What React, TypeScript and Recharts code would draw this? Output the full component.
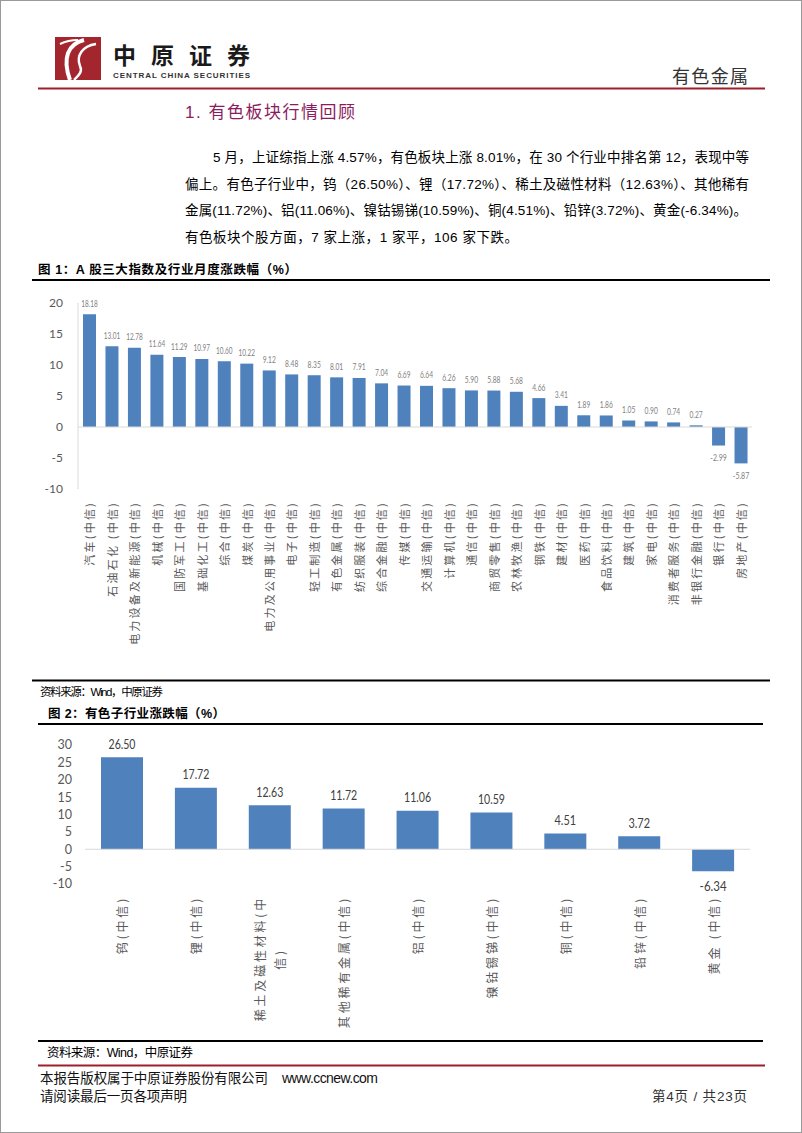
import React from 'react';
import { BarChart, Bar, XAxis, YAxis, ReferenceLine } from 'recharts';

// 图1：A股三大指数及行业月度涨跌幅
const industryNames = [
  '汽车(中信)', '石油石化 (中信)', '电力设备及新能源(中信)', '机械(中信)', '国防军工(中信)',
  '基础化工(中信)', '综合(中信)', '煤炭(中信)', '电力及公用事业(中信)', '电子(中信)',
  '轻工制造(中信)', '有色金属(中信)', '纺织服装(中信)', '综合金融(中信)', '传媒(中信)',
  '交通运输(中信)', '计算机(中信)', '通信(中信)', '商贸零售(中信)', '农林牧渔(中信)',
  '钢铁(中信)', '建材(中信)', '医药(中信)', '食品饮料(中信)', '建筑(中信)',
  '家电(中信)', '消费者服务(中信)', '非银行金融(中信)', '银行(中信)', '房地产(中信)',
];
const industryChanges = [
  18.18, 13.01, 12.78, 11.64, 11.29, 10.97, 10.6, 10.22, 9.12, 8.48,
  8.35, 8.01, 7.91, 7.04, 6.69, 6.64, 6.26, 5.9, 5.88, 5.68,
  4.66, 3.41, 1.89, 1.86, 1.05, 0.9, 0.74, 0.27, -2.99, -5.87,
];
const industryTicks = [-10, -5, 0, 5, 10, 15, 20];

// 图2：有色子行业涨跌幅
const metalNames = [
  '钨(中信)', '锂(中信)', '稀土及磁性材料(中信)', '其他稀有金属(中信)', '铝(中信)',
  '镍钴锡锑(中信)', '铜(中信)', '铅锌(中信)', '黄金 (中信)',
];
const metalChanges = [26.5, 17.72, 12.63, 11.72, 11.06, 10.59, 4.51, 3.72, -6.34];
const metalTicks = [-10, -5, 0, 5, 10, 15, 20, 25, 30];

const CJK = '"Noto Sans CJK SC", sans-serif';
const MIX = '"Liberation Sans", "Noto Sans CJK SC", sans-serif';
const NUM = 'Lato, "Liberation Sans", sans-serif';
const BLUE = '#4F81BD';
const DARK_RED = '#9E1F2A';

const industryData = industryNames.map((name, i) => ({ name, value: industryChanges[i] }));
const metalData = metalNames.map((name, i) => ({ name, value: metalChanges[i] }));

const isAscii = (ch: string) => ch.charCodeAt(0) < 128;

function wrapLabel(label: string, maxUnits: number) {
  const lines: string[] = [];
  let cur = '';
  let units = 0;
  for (const ch of label) {
    const u = isAscii(ch) ? 0.5 : 1;
    if (units + u > maxUnits && cur) {
      lines.push(cur);
      cur = '';
      units = 0;
    }
    cur += ch;
    units += u;
  }
  if (cur) lines.push(cur);
  return lines;
}

const textLen = (s: string, size: number, spacing: number) =>
  Array.from(s).reduce((sum, ch) => sum + (isAscii(ch) ? size * 0.4 : size) + spacing, 0);

function VerticalTick(props: any) {
  const { x, y, payload, size, spacing, maxUnits } = props;
  const lines = wrapLabel(String(payload.value), maxUnits);
  const lens = lines.map((l) => textLen(l, size, spacing));
  const longest = Math.max(...lens);
  const gap = size + 8;
  return (
    <g>
      {lines.map((line, i) => {
        const dx = (i - (lines.length - 1) / 2) * gap;
        const isLong = lens[i] === longest;
        const ty = isLong ? y : y + longest / 2;
        return (
          <text
            key={i}
            transform={`translate(${x + dx},${ty}) rotate(-90)`}
            textAnchor={isLong ? 'end' : 'middle'}
            dominantBaseline="central"
            fontSize={size}
            letterSpacing={spacing}
            fill="#595959"
            fontFamily={CJK}
          >
            {line}
          </text>
        );
      })}
    </g>
  );
}

const valueLabel = (above: number, below: number, size: number, perChar: number, color: string) => (p: any) => {
  const x = Number(p.x);
  const y = Number(p.y);
  const w = Number(p.width);
  const h = Number(p.height);
  const v = Number(p.value);
  const top = Math.min(y, y + h);
  const bottom = Math.max(y, y + h);
  const ty = v >= 0 ? top - above : bottom + below;
  const str = v.toFixed(2);
  return (
    <text
      x={x + w / 2}
      y={ty}
      textAnchor="middle"
      dominantBaseline="central"
      fontSize={size}
      fill={color}
      fontFamily={NUM}
      textLength={str.length * perChar}
      lengthAdjust="spacingAndGlyphs"
    >
      {str}
    </text>
  );
};

function IndustryChart() {
  return (
    <BarChart width={802} height={400} data={industryData} margin={{ top: 13, right: 50, left: 38, bottom: 11 }}>
      <XAxis
        dataKey="name"
        interval={0}
        height={190}
        axisLine={false}
        tickLine={false}
        tickSize={0}
        tickMargin={12}
        tick={(p: any) => <VerticalTick {...p} size={11} spacing={2.2} maxUnits={100} />}
      />
      <YAxis
        width={40}
        domain={[-10, 20]}
        ticks={industryTicks}
        interval={0}
        axisLine={{ stroke: '#d9d9d9' }}
        tickLine={false}
        tickSize={0}
        tickMargin={15}
        tick={{ fill: '#595959', fontSize: 12, fontFamily: NUM }}
      />
      <ReferenceLine y={0} stroke="#d9d9d9" />
      <Bar dataKey="value" fill={BLUE} barSize={13} isAnimationActive={false} label={valueLabel(11, 12, 9.5, 3.3, '#7f7f7f')} />
    </BarChart>
  );
}

function MetalChart() {
  return (
    <BarChart width={802} height={310} data={metalData} margin={{ top: 15, right: 52, left: 45, bottom: 6 }}>
      <XAxis
        dataKey="name"
        interval={0}
        height={150}
        axisLine={false}
        tickLine={false}
        tickSize={0}
        tickMargin={12}
        tick={(p: any) => <VerticalTick {...p} size={12} spacing={2.8} maxUnits={9.2} />}
      />
      <YAxis
        width={40}
        domain={[-10, 30]}
        ticks={metalTicks}
        interval={0}
        axisLine={false}
        tickLine={false}
        tickSize={0}
        tickMargin={13}
        tick={{ fill: '#595959', fontSize: 12.5, fontFamily: NUM }}
      />
      <ReferenceLine y={0} stroke="#d9d9d9" />
      <Bar dataKey="value" fill={BLUE} barSize={42} isAnimationActive={false} label={valueLabel(13, 15, 12.5, 5.4, '#404040')} />
    </BarChart>
  );
}

function Line({ y, x1, x2, color = '#000', w = 2 }: { y: number; x1: number; x2: number; color?: string; w?: number }) {
  return <line x1={x1} x2={x2} y1={y} y2={y} stroke={color} strokeWidth={w} />;
}

function T(props: any) {
  const { x, y, size, len, children, family = MIX, color = '#000', weight = 'normal', anchor = 'start' } = props;
  return (
    <text
      x={x}
      y={y}
      fontSize={size}
      fontFamily={family}
      fill={color}
      fontWeight={weight}
      textAnchor={anchor}
      dominantBaseline="central"
      textLength={len}
      lengthAdjust={len ? 'spacing' : undefined}
    >
      {children}
    </text>
  );
}

export default function App() {
  return (
    <div style={{ position: 'absolute', left: 0, top: 0, width: 802, height: 1133, background: '#fff', boxSizing: 'border-box', border: '1px solid #9a9a9a' }}>
      <svg width={802} height={1133} style={{ position: 'absolute', left: -1, top: -1 }}>
        {/* logo */}
        <rect x={55} y={37} width={46} height={43} fill="#A3262F" />
        <path d="M 84 40 C 68 44, 62 58, 70 80" stroke="#fff" strokeWidth={4} fill="none" />
        <path d="M 96 44 C 82 46, 76 56, 80 66 C 83 72, 78 76, 74 80" stroke="#fff" strokeWidth={2.5} fill="none" />
        <path d="M 60 44 C 66 41, 72 40, 78 40" stroke="#fff" strokeWidth={2} fill="none" />
        <T x={113} y={54} size={23} len={137} family={CJK} weight="bold" color="#1a1a1a">中原证券</T>
        <T x={113} y={75} size={8} len={137} family='"Liberation Sans", sans-serif' weight="bold" color="#333">CENTRAL CHINA SECURITIES</T>
        <T x={672} y={75} size={18} len={76} family={CJK} color="#333">有色金属</T>
        <Line y={88.5} x1={38} x2={765} color={DARK_RED} w={2} />

        <T x={185} y={112} size={17} len={170} color="#8B1C5E">1. 有色板块行情回顾</T>
        <T x={213} y={157} size={13.5} len={536}>5 月，上证综指上涨 4.57%，有色板块上涨 8.01%，在 30 个行业中排名第 12，表现中等</T>
        <T x={185} y={184} size={13.5} len={564}>偏上。有色子行业中，钨（26.50%）、锂（17.72%）、稀土及磁性材料（12.63%）、其他稀有</T>
        <T x={185} y={210.5} size={13.5} len={562}>金属(11.72%)、铝(11.06%)、镍钴锡锑(10.59%)、铜(4.51%)、铅锌(3.72%)、黄金(-6.34%)。</T>
        <T x={185} y={237} size={13.5} len={333}>有色板块个股方面，7 家上涨，1 家平，106 家下跌。</T>

        <T x={38} y={270} size={12.5} len={259} weight="bold">图 1：A 股三大指数及行业月度涨跌幅（%）</T>
        <Line y={280} x1={32} x2={770} />
        <Line y={680.5} x1={32} x2={770} />
        <T x={40} y={691.5} size={11.5} len={123}>资料来源：Wind，中原证券</T>

        <T x={48} y={714} size={12.5} len={177} weight="bold">图 2：有色子行业涨跌幅（%）</T>
        <Line y={724} x1={38} x2={763} />
        <Line y={1041} x1={38} x2={763} />
        <T x={47} y={1053} size={12.5} len={146}>资料来源：Wind，中原证券</T>

        <Line y={1065.5} x1={38} x2={765} color={DARK_RED} w={2} />
        <T x={40} y={1078} size={13.5} len={228} color="#111">本报告版权属于中原证券股份有限公司</T>
        <T x={282} y={1078} size={14} len={96} color="#111">www.ccnew.com</T>
        <T x={40} y={1096} size={13.5} len={147} color="#111">请阅读最后一页各项声明</T>
        <T x={652} y={1096} size={13.5} len={95} color="#333">第4页 / 共23页</T>
      </svg>
      <div style={{ position: 'absolute', left: -1, top: 289 }}>
        <IndustryChart />
      </div>
      <div style={{ position: 'absolute', left: -1, top: 729 }}>
        <MetalChart />
      </div>
    </div>
  );
}
